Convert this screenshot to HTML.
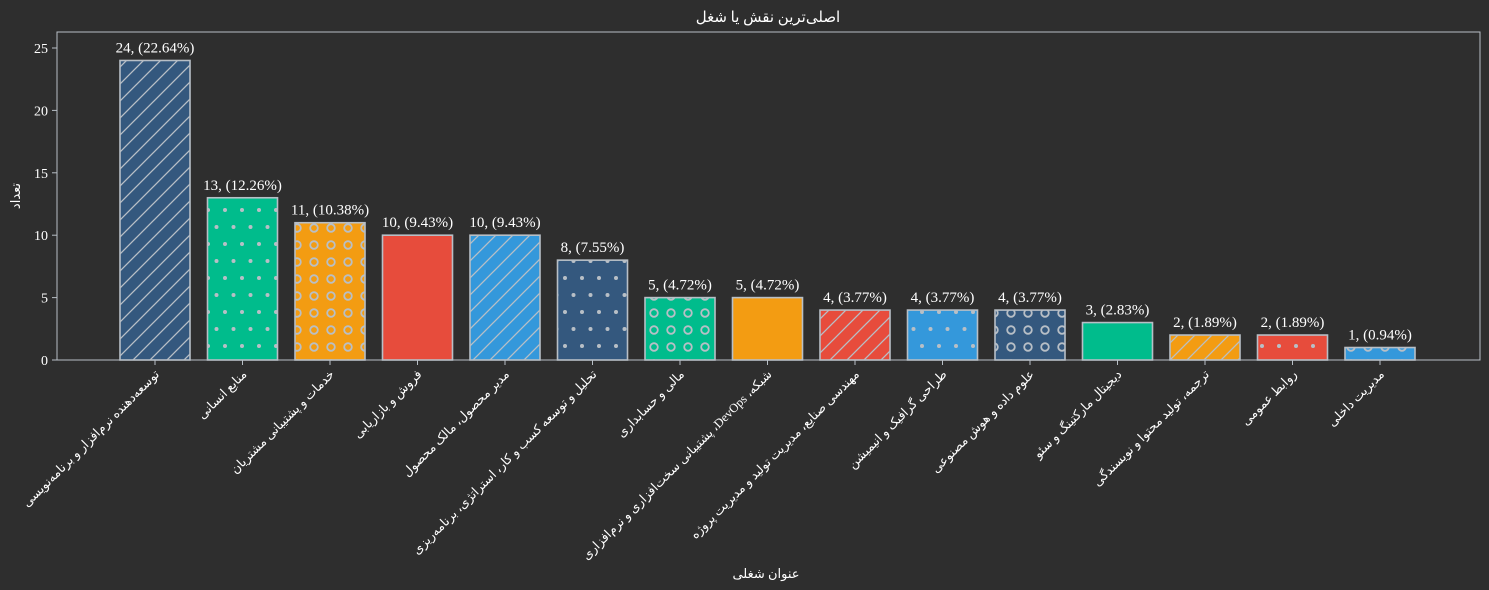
<!DOCTYPE html>
<html><head><meta charset="utf-8"><style>
body{margin:0;background:#2e2e2e;}
svg{display:block;font-family:"Liberation Serif","DejaVu Sans",serif;}
</style></head><body>
<svg id="chart" width="1489" height="590" viewBox="0 0 1489 590">
<defs>
<pattern id="p-slash" width="17" height="17" patternUnits="userSpaceOnUse"><path d="M-2,19 L19,-2 M-2,2 L2,-2 M15,19 L19,15" stroke="#b8bfc6" stroke-width="1.3"/></pattern>
<pattern id="p-dot" width="17" height="34" patternUnits="userSpaceOnUse"><circle cx="4" cy="6" r="2" fill="#b8bfc6"/><circle cx="12.5" cy="23" r="2" fill="#b8bfc6"/></pattern>
<pattern id="p-circ" width="17" height="17" patternUnits="userSpaceOnUse"><circle cx="8" cy="7" r="3.8" fill="none" stroke="#b8bfc6" stroke-width="1.8"/></pattern>
</defs>
<rect x="57" y="32" width="1423" height="328" fill="none" stroke="#b8bfc6" stroke-width="1"/>
<text x="768" y="22" fill="#fff" font-size="15" text-anchor="middle">اصلی‌ترین نقش یا شغل</text>
<text x="766" y="578" fill="#fff" font-size="13" text-anchor="middle">عنوان شغلی</text>
<text transform="translate(20,196) rotate(-90)" fill="#fff" font-size="13" text-anchor="middle">تعداد</text>
<g id="yaxis"></g><g id="bars"></g><g id="xaxis"></g>
</svg>
<script>
const categories=["توسعه‌دهنده نرم‌افزار و برنامه‌نویسی","منابع انسانی","خدمات و پشتیبانی مشتریان","فروش و بازاریابی","مدیر محصول، مالک محصول","تحلیل و توسعه کسب و کار، استراتژی، برنامه‌ریزی","مالی و حسابداری","شبکه، DevOps، پشتیبانی سخت‌افزاری و نرم‌افزاری","مهندسی صنایع، مدیریت تولید و مدیریت پروژه","طراحی گرافیک و انیمیشن","علوم داده و هوش مصنوعی","دیجیتال مارکتینگ و سئو","ترجمه، تولید محتوا و نویسندگی","روابط عمومی","مدیریت داخلی"];
const counts=[24,13,11,10,10,8,5,5,4,4,4,3,2,2,1];
const percents=["22.64","12.26","10.38","9.43","9.43","7.55","4.72","4.72","3.77","3.77","3.77","2.83","1.89","1.89","0.94"];
const yTicks=[0,5,10,15,20,25];
const colors=["#34587e","#00bc8c","#f39c12","#e74c3c","#3498db"];
const hatches=["p-slash","p-dot","p-circ",null,"p-slash","p-dot","p-circ",null,"p-slash","p-dot","p-circ",null,"p-slash","p-dot","p-circ"];
const NS="http://www.w3.org/2000/svg";
const y=v=>360-v*12.48;
const x=i=>155+i*87.5;
const bw=70;
function mk(tag,attrs,parent,txt){const e=document.createElementNS(NS,tag);for(const k in attrs)e.setAttribute(k,attrs[k]);if(txt!==undefined)e.textContent=txt;parent.appendChild(e);return e;}
const ya=document.getElementById('yaxis'),ba=document.getElementById('bars'),xa=document.getElementById('xaxis');
yTicks.forEach(t=>{
  const l=mk('line',{x1:52,x2:57,y1:y(t),y2:y(t),stroke:'#b8bfc6'},ya);
  
  
  const tx=mk('text',{x:48,y:y(t)+5,fill:'#fff','font-size':14,'text-anchor':'end'},ya,t);
  
  
});
counts.forEach((c,i)=>{
  const cx=x(i),c0=colors[i%5];
  const r=mk('rect',{x:cx-bw/2,y:y(c),width:bw,height:y(0)-y(c),fill:c0},ba);
  
  
  if(hatches[i]){const h=mk('rect',{x:cx-bw/2,y:y(c),width:bw,height:y(0)-y(c),fill:'url(#'+hatches[i]+')'},ba);
    
    }
  const o=mk('rect',{x:cx-bw/2,y:y(c),width:bw,height:y(0)-y(c),fill:'none',stroke:'#b8bfc6','stroke-width':1.6},ba);
  
  
  const lb=mk('text',{x:cx,y:y(c)-8,fill:'#fff','font-size':15,'text-anchor':'middle'},ba,c+', ('+percents[i]+'%)');
  
  
  const tk=mk('line',{x1:cx,x2:cx,y1:360,y2:365,stroke:'#b8bfc6'},xa);
  
  
  const tl=mk('text',{transform:'translate('+(cx+5)+',375) rotate(-45)',fill:'#fff','font-size':12.5,'text-anchor':'end'},xa,'\u202B'+categories[i]+'\u202C');
  
  
});
</script>
</body></html>
